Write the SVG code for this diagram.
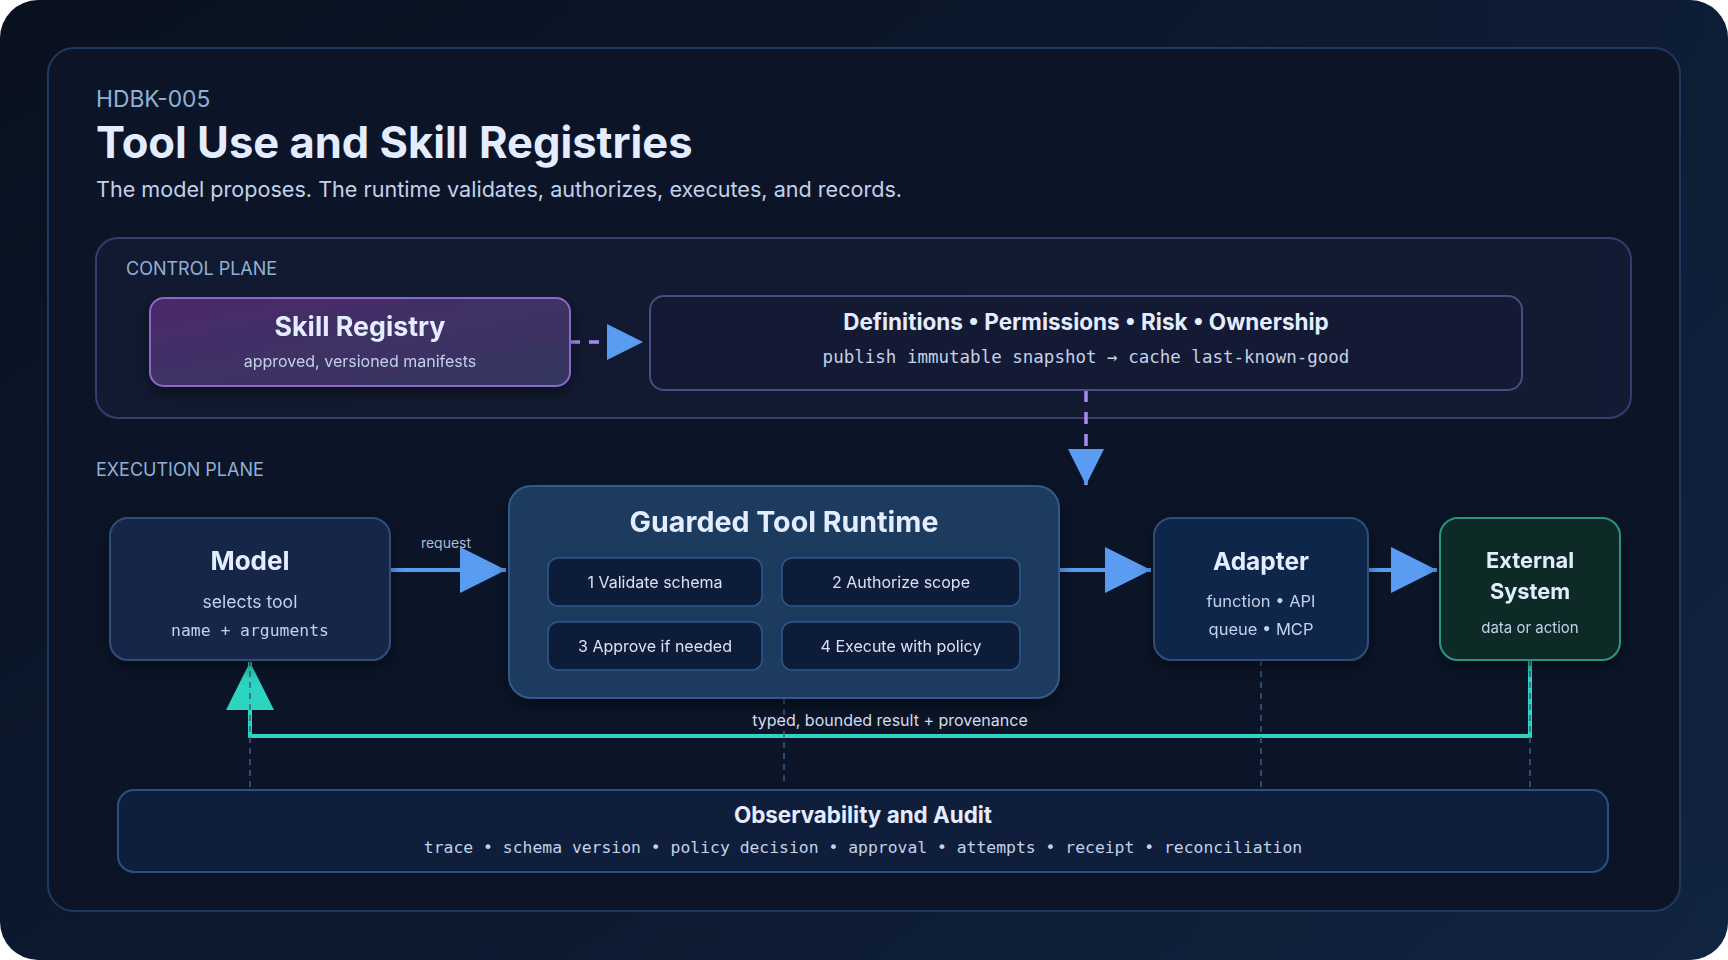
<svg xmlns="http://www.w3.org/2000/svg" width="1728" height="960" viewBox="0 0 1728 960">
  <defs>
    <linearGradient id="bg" x1="0" y1="0" x2="1" y2="1">
      <stop offset="0" stop-color="#09111f"/>
      <stop offset="0.6" stop-color="#0c1a30"/>
      <stop offset="1" stop-color="#10223c"/>
    </linearGradient>
    <linearGradient id="bgtop" x1="0" y1="0" x2="1" y2="0">
      <stop offset="0" stop-color="#09111f" stop-opacity="0"/>
      <stop offset="1" stop-color="#13284a" stop-opacity="0.6"/>
    </linearGradient>
    <linearGradient id="skill" x1="0" y1="0" x2="1" y2="1">
      <stop offset="0" stop-color="#4b2a6a"/>
      <stop offset="1" stop-color="#33375f"/>
    </linearGradient>
    <linearGradient id="cp" x1="0" y1="0" x2="1" y2="0">
      <stop offset="0" stop-color="#111a30"/>
      <stop offset="1" stop-color="#131a33"/>
    </linearGradient>
    <filter id="sh" x="-20%" y="-20%" width="140%" height="150%">
      <feDropShadow dx="0" dy="6" stdDeviation="8" flood-color="#000000" flood-opacity="0.45"/>
    </filter>
    <marker id="ahBlue" viewBox="0 0 10 10" refX="10" refY="5" markerWidth="46" markerHeight="46" markerUnits="userSpaceOnUse" orient="auto">
      <path d="M0,0 L10,5 L0,10 Z" fill="#5a9cf2"/>
    </marker>
    <marker id="ahBlueS" viewBox="0 0 10 10" refX="10" refY="5" markerWidth="36" markerHeight="36" markerUnits="userSpaceOnUse" orient="auto">
      <path d="M0,0 L10,5 L0,10 Z" fill="#5a9cf2"/>
    </marker>
    <marker id="ahTeal" viewBox="0 0 10 10" refX="10" refY="5" markerWidth="48" markerHeight="48" markerUnits="userSpaceOnUse" orient="auto">
      <path d="M0,0 L10,5 L0,10 Z" fill="#2dd4bf"/>
    </marker>
  </defs>
  <style>
    .sans { font-family: Inter, "Liberation Sans", Arial, sans-serif; }
    .mono { font-family: "DejaVu Sans Mono", "Liberation Mono", monospace; }
    .h { font-weight: 700; fill: #e3edff; text-anchor: middle; }
    .sub { fill: #c3d1ea; text-anchor: middle; }
    .lbl { fill: #8fb1d6; }
    .step { fill: #d7e2f4; text-anchor: middle; font-size: 16px; }
    .stepbox { fill: #0e1c37; stroke: #2e5a91; stroke-width: 1.5; }
    .vdash { stroke: #3b5e88; stroke-width: 1.5; stroke-dasharray: 6 5; fill: none; }
  </style>

  <!-- background -->
  <rect x="0" y="0" width="1728" height="960" rx="38" fill="url(#bg)"/>
  <rect x="0" y="0" width="1728" height="960" rx="38" fill="url(#bgtop)" opacity="0.5"/>
  <rect x="48" y="48" width="1632" height="863" rx="26" fill="#0b1527" stroke="#1f3a5d" stroke-width="2"/>

  <!-- header -->
  <text x="96" y="107" class="sans lbl" font-size="22.8">HDBK-005</text>
  <text x="96" y="158" class="sans" font-size="43.5" font-weight="700" fill="#e3edff">Tool Use and Skill Registries</text>
  <text x="96" y="197" class="sans" font-size="21.6" fill="#c3d1ea">The model proposes. The runtime validates, authorizes, executes, and records.</text>

  <!-- control plane container -->
  <g id="control-plane">
    <rect x="96" y="238" width="1535" height="180" rx="22" fill="url(#cp)" stroke="#3c3a6d" stroke-width="2"/>
    <text x="126" y="275" class="sans lbl" font-size="18">CONTROL PLANE</text>
  </g>

  <text x="96" y="476" class="sans lbl" font-size="18">EXECUTION PLANE</text>

  <!-- connectors -->
  <g id="connectors" fill="none">
    <path d="M570,342 L643,342" stroke="#a68af0" stroke-width="3.5" stroke-dasharray="10 9" marker-end="url(#ahBlueS)"/>
    <path d="M1086,390 L1086,485" stroke="#a68af0" stroke-width="3.5" stroke-dasharray="12 10" marker-end="url(#ahBlueS)"/>
    <path d="M390,570 L506,570" stroke="#5a9cf2" stroke-width="4" marker-end="url(#ahBlue)"/>
    <path d="M1058,570 L1151,570" stroke="#5a9cf2" stroke-width="4" marker-end="url(#ahBlue)"/>
    <path d="M1368,570 L1437,570" stroke="#5a9cf2" stroke-width="4" marker-end="url(#ahBlue)"/>
    <path d="M1530,660 L1530,736 L250,736 L250,662" stroke="#2dd4bf" stroke-width="4" marker-end="url(#ahTeal)"/>
    <path d="M250,660 L250,790" class="vdash"/>
    <path d="M784,698 L784,785" class="vdash"/>
    <path d="M1261,660 L1261,790" class="vdash"/>
    <path d="M1530,660 L1530,790" class="vdash"/>
    <text x="446" y="548" class="sans" font-size="14" fill="#a9bcd6" text-anchor="middle">request</text>
    <text x="890" y="726" class="sans" font-size="16" fill="#d3def0" text-anchor="middle">typed, bounded result + provenance</text>
  </g>

  <!-- Skill Registry -->
  <g id="skill-registry" filter="url(#sh)">
    <rect x="150" y="298" width="420" height="88" rx="14" fill="url(#skill)" stroke="#8c68c9" stroke-width="2"/>
    <text x="360" y="336" class="sans h" font-size="26.8">Skill Registry</text>
    <text x="360" y="367" class="sans sub" font-size="16">approved, versioned manifests</text>
  </g>

  <!-- Definitions -->
  <g id="definitions">
    <rect x="650" y="296" width="872" height="94" rx="14" fill="#141a33" stroke="#484c80" stroke-width="2"/>
    <text x="1086" y="330" class="sans h" font-size="22.5">Definitions • Permissions • Risk • Ownership</text>
    <text x="1086" y="363" class="mono sub" font-size="17.5">publish immutable snapshot → cache last-known-good</text>
  </g>

  <!-- Model -->
  <g id="model" filter="url(#sh)">
    <rect x="110" y="518" width="280" height="142" rx="18" fill="#15284a" stroke="#2f4e78" stroke-width="2"/>
    <text x="250" y="570" class="sans h" font-size="26">Model</text>
    <text x="250" y="608" class="sans sub" font-size="17.6">selects tool</text>
    <text x="250" y="636" class="mono sub" font-size="16.4" fill="#d7e2f4">name + arguments</text>
  </g>

  <!-- Guarded Tool Runtime -->
  <g id="runtime" filter="url(#sh)">
    <rect x="509" y="486" width="550" height="212" rx="22" fill="#1b3a5f" stroke="#2f5a8c" stroke-width="2"/>
    <text x="784" y="532" class="sans h" font-size="28.6">Guarded Tool Runtime</text>
    <rect x="548" y="558" width="214" height="48" rx="10" class="stepbox"/>
    <text x="655" y="588" class="sans step">1 Validate schema</text>
    <rect x="782" y="558" width="238" height="48" rx="10" class="stepbox"/>
    <text x="901" y="588" class="sans step">2 Authorize scope</text>
    <rect x="548" y="622" width="214" height="48" rx="10" class="stepbox"/>
    <text x="655" y="652" class="sans step">3 Approve if needed</text>
    <rect x="782" y="622" width="238" height="48" rx="10" class="stepbox"/>
    <text x="901" y="652" class="sans step">4 Execute with policy</text>
  </g>

  <!-- Adapter -->
  <g id="adapter" filter="url(#sh)">
    <rect x="1154" y="518" width="214" height="142" rx="18" fill="#11254a" stroke="#2f4e78" stroke-width="2"/>
    <text x="1261" y="570" class="sans h" font-size="24.5">Adapter</text>
    <text x="1261" y="607" class="sans sub" font-size="16.5">function • API</text>
    <text x="1261" y="635" class="sans sub" font-size="16.5">queue • MCP</text>
  </g>

  <!-- External System -->
  <g id="external" filter="url(#sh)">
    <rect x="1440" y="518" width="180" height="142" rx="18" fill="#0c2b27" stroke="#2b9480" stroke-width="2"/>
    <text x="1530" y="568" class="sans h" font-size="21.8">External</text>
    <text x="1530" y="599" class="sans h" font-size="21.8">System</text>
    <text x="1530" y="633" class="sans sub" font-size="15">data or action</text>
  </g>

  <!-- Observability -->
  <g id="observability">
    <rect x="118" y="790" width="1490" height="82" rx="16" fill="#0f1f3b" stroke="#2d5080" stroke-width="2"/>
    <text x="863" y="823" class="sans h" font-size="22.4">Observability and Audit</text>
    <text x="863" y="853" class="mono sub" font-size="16.4" fill="#d7e2f4">trace • schema version • policy decision • approval • attempts • receipt • reconciliation</text>
  </g>
</svg>
